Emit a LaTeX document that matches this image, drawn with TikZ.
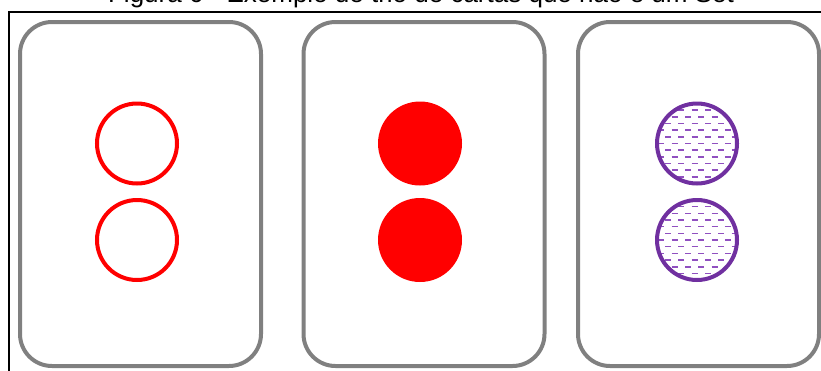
\documentclass[tikz,border=0pt]{standalone}
\usepackage{fontspec}
\setmainfont{Liberation Sans}
\definecolor{cardgray}{HTML}{808080}
\definecolor{setred}{HTML}{FF0000}
\definecolor{setpurple}{HTML}{7030A0}
\definecolor{hatchpurple}{HTML}{9050C0}
\begin{document}
\begin{tikzpicture}[x=1pt,y=-1pt,
  card/.style={draw=cardgray, line width=4pt, rounded corners=32pt, minimum width=241pt, minimum height=344pt, inner sep=0pt},
  shapecirc/.style={circle, line width=4pt, minimum size=80pt, inner sep=0pt},
  outlinecirc/.style={shapecirc, draw=setred},
  solidcirc/.style={shapecirc, draw=setred, fill=setred},
  stripecirc/.style={shapecirc, draw=setpurple},
  hatch/.style={draw=hatchpurple, line width=1.6pt},
  frame/.style={draw=black, line width=1.5pt}]
\useasboundingbox (0,0) rectangle (821,370);
% title (cut off at the top)
\node[anchor=base, inner sep=0pt, font=\fontsize{26}{30}\selectfont] (title) at (421,2.5) {Figura 6 - Exemplo de trio de cartas que não é um Set};
% frame
\coordinate (fbl) at (9,380);
\coordinate (ftl) at (9,12);
\coordinate (ftr) at (830,12);
\draw[frame] (fbl) -- (ftl) -- (ftr);
% cards
\node[card] (c1) at (140.5,194) {};
\node[card] (c2) at (424,194) {};
\node[card] (c3) at (698.5,194) {};
% card 1: outlined red circles
\node[outlinecirc] (a1) at (137,143.5) {};
\node[outlinecirc] (a2) at (137,240) {};
% card 2: solid red circles
\node[solidcirc] (b1) at (420,143.5) {};
\node[solidcirc] (b2) at (420,240) {};
% card 3: striped purple circles
\foreach \cy in {143.5,240} {
  \begin{scope}[shift={(697,\cy)}]
    \clip (0,0) circle (38.5);
    \foreach \r in {0,...,12} {
      \pgfmathsetmacro\yy{-40+\r*6.67}
      \pgfmathsetmacro\off{mod(\r,2)*6.67}
      \foreach \c in {0,...,7} {
        \pgfmathsetmacro\xx{-52+\off+\c*13.33}
        \draw[hatch] (\xx,\yy) -- ++(6,0);
      }
    }
  \end{scope}
}
\node[stripecirc] (s1) at (697,143.5) {};
\node[stripecirc] (s2) at (697,240) {};
\end{tikzpicture}
\end{document}
